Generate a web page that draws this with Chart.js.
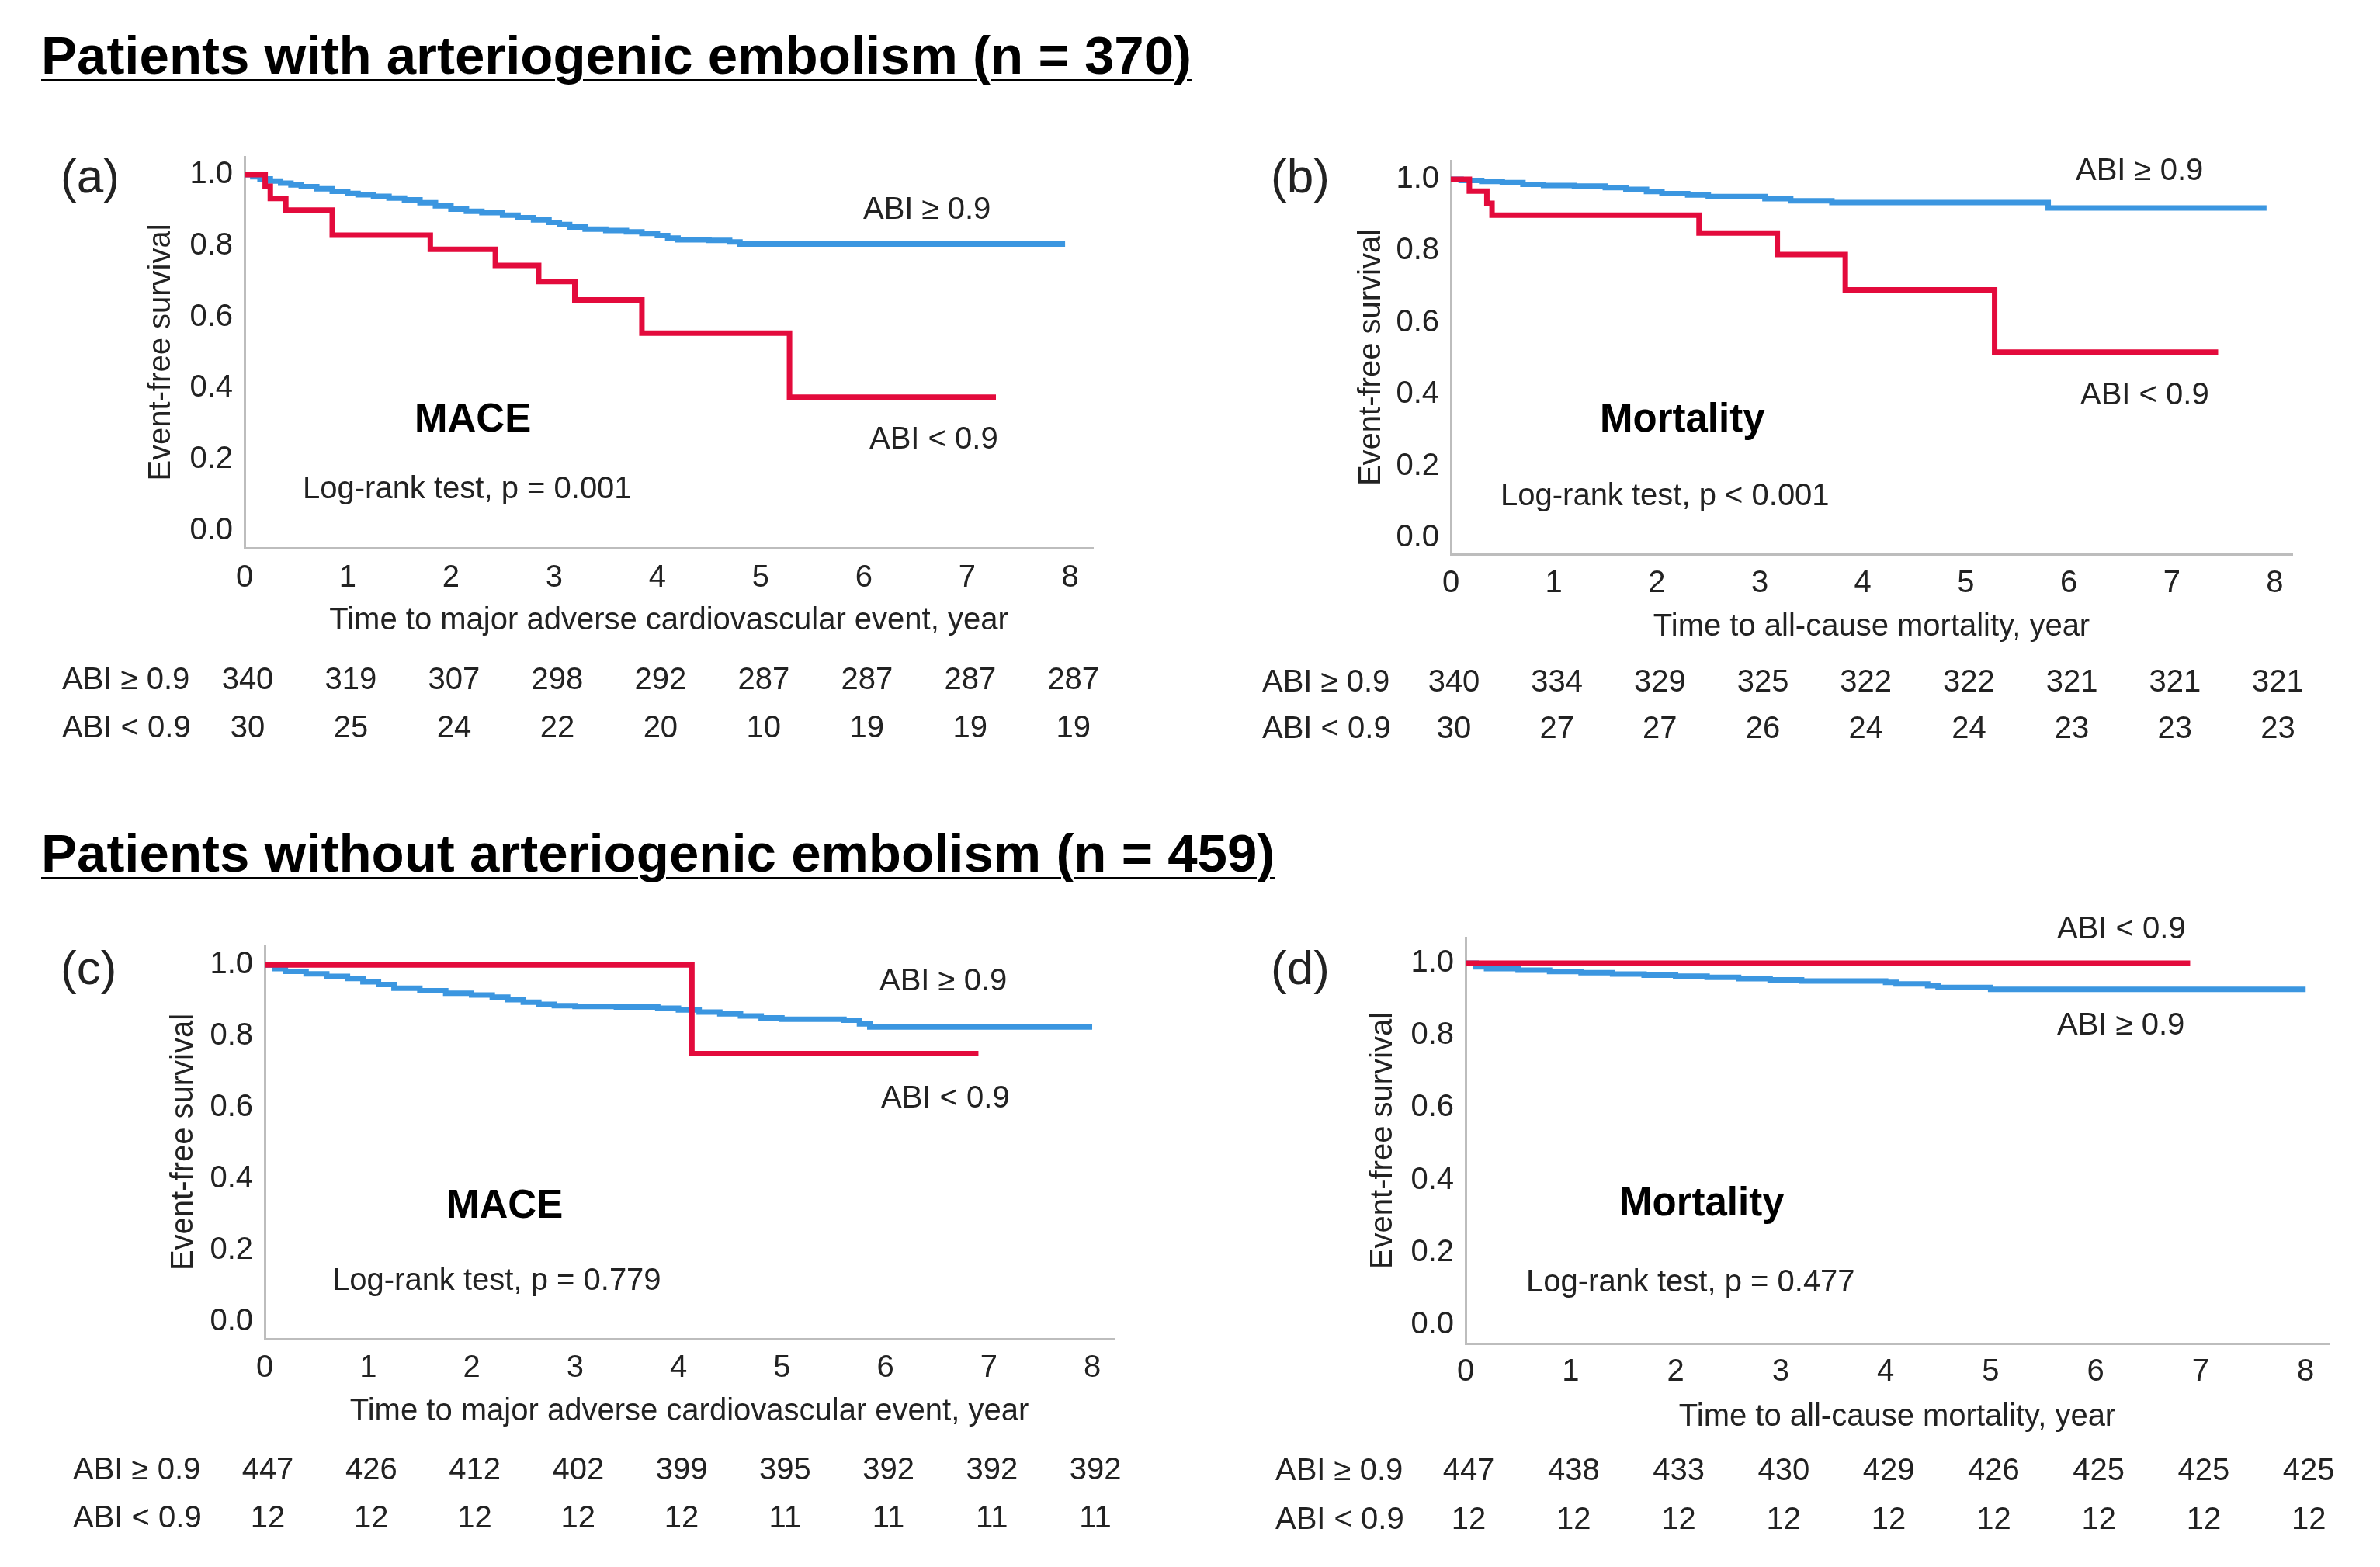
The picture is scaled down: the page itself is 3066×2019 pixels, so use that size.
<!DOCTYPE html>
<html>
<head>
<meta charset="utf-8">
<script src="https://cdn.jsdelivr.net/npm/chart.js"></script>
<style>
html,body{margin:0;padding:0;background:#fff;}
#page{position:relative;width:3066px;height:2019px;overflow:hidden;background:#fff;}
.sec{position:absolute;font-family:"Liberation Sans",Arial,sans-serif;font-weight:bold;font-size:69px;line-height:69px;color:#000;text-decoration:underline;text-decoration-thickness:3px;text-underline-offset:7px;white-space:nowrap;}
canvas{position:absolute;}
</style>
</head>
<body>
<div id="page">
  <div class="sec" style="left:53px;top:37px">Patients with arteriogenic embolism (n = 370)</div>
  <div class="sec" style="left:53px;top:1065px">Patients without arteriogenic embolism (n = 459)</div>
  <canvas id="cA"></canvas>
  <canvas id="cB"></canvas>
  <canvas id="cC"></canvas>
  <canvas id="cD"></canvas>
</div>
<script>
// ---------- data ----------
const TIME_TICKS = [0, 1, 2, 3, 4, 5, 6, 7, 8];
const SURV_TICKS = [0, 0.2, 0.4, 0.6, 0.8, 1.0];
const ROW_LABELS = ['ABI \u2265 0.9', 'ABI < 0.9'];

// (a) arteriogenic embolism, MACE
const A_LOW_T  = [0, 0.2, 0.25, 0.4, 0.85, 1.8, 2.43, 2.85, 3.2, 3.85, 5.28, 7.28];
const A_LOW_S  = [1, 0.967, 0.933, 0.9, 0.83, 0.79, 0.745, 0.70, 0.648, 0.555, 0.375, 0.375];
const A_HIGH_T = [0, 0.08, 0.15, 0.25, 0.35, 0.45, 0.55, 0.7, 0.85, 1.0, 1.1, 1.25, 1.4, 1.55, 1.7, 1.85, 2.0, 2.15, 2.3, 2.5, 2.65, 2.8, 2.95, 3.05, 3.15, 3.3, 3.5, 3.7, 3.85, 4.0, 4.1, 4.2, 4.5, 4.7, 4.8, 7.95];
const A_HIGH_S = [1, 0.994, 0.988, 0.982, 0.976, 0.971, 0.966, 0.96, 0.953, 0.947, 0.943, 0.939, 0.934, 0.929, 0.921, 0.912, 0.903, 0.897, 0.893, 0.886, 0.879, 0.873, 0.866, 0.86, 0.853, 0.847, 0.843, 0.839, 0.835, 0.829, 0.822, 0.817, 0.815, 0.811, 0.805, 0.805];
const A_RISK_HIGH = [340, 319, 307, 298, 292, 287, 287, 287, 287];
const A_RISK_LOW  = [30, 25, 24, 22, 20, 10, 19, 19, 19];

// (b) arteriogenic embolism, mortality
const B_LOW_T  = [0, 0.18, 0.35, 0.40, 2.41, 3.17, 3.83, 5.28, 7.45];
const B_LOW_S  = [1, 0.967, 0.933, 0.9, 0.85, 0.79, 0.692, 0.518, 0.518];
const B_HIGH_T = [0, 0.1, 0.3, 0.5, 0.7, 0.9, 1.2, 1.5, 1.7, 1.9, 2.05, 2.3, 2.5, 3.05, 3.3, 3.7, 5.8, 7.92];
const B_HIGH_S = [1, 0.997, 0.994, 0.991, 0.986, 0.983, 0.981, 0.977, 0.972, 0.966, 0.96, 0.956, 0.952, 0.946, 0.94, 0.935, 0.92, 0.92];
const B_RISK_HIGH = [340, 334, 329, 325, 322, 322, 321, 321, 321];
const B_RISK_LOW  = [30, 27, 27, 26, 24, 24, 23, 23, 23];

// (c) no arteriogenic embolism, MACE
const C_LOW_T  = [0, 4.13, 6.9];
const C_LOW_S  = [1, 0.752, 0.752];
const C_HIGH_T = [0, 0.1, 0.2, 0.4, 0.6, 0.8, 0.95, 1.1, 1.25, 1.5, 1.75, 2.0, 2.2, 2.35, 2.5, 2.65, 2.8, 3.0, 3.4, 3.8, 4.0, 4.2, 4.4, 4.6, 4.8, 5.0, 5.6, 5.75, 5.85, 8.0];
const C_HIGH_S = [1, 0.99, 0.982, 0.975, 0.968, 0.962, 0.953, 0.945, 0.935, 0.928, 0.921, 0.916, 0.91, 0.903, 0.896, 0.89, 0.886, 0.884, 0.882, 0.879, 0.874, 0.868, 0.863, 0.857, 0.852, 0.848, 0.845, 0.835, 0.826, 0.826];
const C_RISK_HIGH = [447, 426, 412, 402, 399, 395, 392, 392, 392];
const C_RISK_LOW  = [12, 12, 12, 12, 12, 11, 11, 11, 11];

// (d) no arteriogenic embolism, mortality
const D_LOW_T  = [0, 6.9];
const D_LOW_S  = [1, 1];
const D_HIGH_T = [0, 0.1, 0.2, 0.5, 0.8, 1.1, 1.4, 1.7, 2.0, 2.3, 2.6, 2.9, 3.2, 4.0, 4.1, 4.4, 4.5, 5.0, 8.0];
const D_HIGH_S = [1, 0.99, 0.985, 0.981, 0.977, 0.974, 0.97, 0.967, 0.964, 0.961, 0.957, 0.954, 0.951, 0.947, 0.943, 0.938, 0.933, 0.928, 0.928];
const D_RISK_HIGH = [447, 438, 433, 430, 429, 426, 425, 425, 425];
const D_RISK_LOW  = [12, 12, 12, 12, 12, 12, 12, 12, 12];

// ---------- style ----------
const FONT = '"Liberation Sans", Arial, sans-serif';
const INK = '#222222';
const RED = '#E30B3C';
const BLUE = '#3B96E0';
const AXIS = '#BDBDBD';
Chart.defaults.font.family = FONT;

const kmPlugin = {
  id: 'kmExtras',
  afterDraw(chart, args, o) {
    const ctx = chart.ctx;
    ctx.save();
    ctx.fillStyle = INK;
    ctx.textBaseline = 'alphabetic';
    ctx.textAlign = 'left';
    ctx.font = '62px ' + FONT;
    ctx.fillText(o.letter, o.letterX - o.ox, o.letterY - o.oy);
    o.notes.forEach(n => {
      ctx.font = (n.bold ? 'bold 51px ' : '40px ') + FONT;
      ctx.textAlign = 'left';
      ctx.fillStyle = n.bold ? '#000' : INK;
      ctx.fillText(n.text, n.x - o.ox, n.y - o.oy);
    });
    ctx.fillStyle = INK;
    ctx.font = '40px ' + FONT;
    const xs = chart.scales.x;
    [o.riskHigh, o.riskLow].forEach((row, r) => {
      const y = o.riskY[r] - o.oy;
      ctx.textAlign = 'left';
      ctx.fillText(ROW_LABELS[r], o.riskX - o.ox, y);
      ctx.textAlign = 'center';
      row.forEach((v, i) => {
        ctx.fillText(String(v), xs.getPixelForValue(TIME_TICKS[i]) + 4, y);
      });
    });
    ctx.restore();
  }
};

function pts(ts, ss) { return ts.map((t, i) => ({x: t, y: ss[i]})); }

function makePanel(c) {
  const cv = document.getElementById(c.id);
  cv.width = c.cw; cv.height = c.ch;
  cv.style.left = c.ox + 'px'; cv.style.top = c.oy + 'px';
  cv.style.width = c.cw + 'px'; cv.style.height = c.ch + 'px';
  const H = c.xTitleY - c.B + 24;
  const padLeft = c.yTitleX - 24 - c.ox;
  const W = c.L - c.yTitleX + 24;
  new Chart(cv, {
    type: 'line',
    data: {
      datasets: [
        {label: 'ABI < 0.9', data: pts(c.lowT, c.lowS), borderColor: RED, backgroundColor: RED},
        {label: 'ABI \u2265 0.9', data: pts(c.highT, c.highS), borderColor: BLUE, backgroundColor: BLUE}
      ]
    },
    options: {
      responsive: false,
      animation: false,
      devicePixelRatio: 1,
      layout: {padding: {left: padLeft, top: c.T - c.oy, right: c.ox + c.cw - c.R, bottom: c.oy + c.ch - c.B - H}},
      elements: {
        point: {radius: 0, hoverRadius: 0},
        line: {borderWidth: 7, stepped: 'before', tension: 0, borderCapStyle: 'butt', fill: false}
      },
      plugins: {
        legend: {display: false},
        tooltip: {enabled: false},
        kmExtras: {
          ox: c.ox, oy: c.oy, letter: c.letter, letterX: c.letterX, letterY: c.letterY,
          notes: c.notes, riskHigh: c.riskHigh, riskLow: c.riskLow, riskX: c.riskX, riskY: c.riskY
        }
      },
      scales: {
        x: {
          type: 'linear', position: 'bottom', min: 0, max: c.xMax,
          afterBuildTicks: s => { s.ticks = TIME_TICKS.map(v => ({value: v})); },
          afterFit: s => { s.height = H; },
          grid: {display: false},
          border: {display: true, color: AXIS, width: 3},
          ticks: {font: {size: 40, family: FONT}, color: INK, padding: c.xPad, autoSkip: false, maxRotation: 0, callback: v => String(v)},
          title: {display: true, text: c.xTitle, font: {size: 40, family: FONT}, color: INK, padding: 0}
        },
        y: {
          type: 'linear', position: 'left', min: c.yMin, max: c.yMax,
          afterBuildTicks: s => { s.ticks = SURV_TICKS.map(v => ({value: v})); },
          afterFit: s => { s.width = W; },
          grid: {display: false},
          border: {display: true, color: AXIS, width: 3},
          ticks: {font: {size: 40, family: FONT}, color: INK, padding: 7, callback: v => Number(v).toFixed(1)},
          title: {display: true, text: 'Event-free survival', font: {size: 40, family: FONT}, color: INK, padding: 0}
        }
      }
    },
    plugins: [kmPlugin]
  });
}

const XT_MACE = 'Time to major adverse cardiovascular event, year';
const XT_MORT = 'Time to all-cause mortality, year';

makePanel({
  id: 'cA', ox: 0, oy: 140, cw: 1533, ch: 860,
  L: 315, T: 202, R: 1408, B: 706, yTitleX: 208, xTitleY: 800, xPad: 7,
  xMax: 8.22, yMin: -0.048, yMax: 1.05, xTitle: XT_MACE,
  lowT: A_LOW_T, lowS: A_LOW_S, highT: A_HIGH_T, highS: A_HIGH_S,
  riskHigh: A_RISK_HIGH, riskLow: A_RISK_LOW, riskX: 80, riskY: [888, 950],
  letter: '(a)', letterX: 78, letterY: 248,
  notes: [
    {text: 'ABI \u2265 0.9', x: 1112, y: 282},
    {text: 'ABI < 0.9', x: 1120, y: 578},
    {text: 'MACE', x: 534, y: 556, bold: true},
    {text: 'Log-rank test, p = 0.001', x: 390, y: 642}
  ]
});

makePanel({
  id: 'cB', ox: 1533, oy: 140, cw: 1533, ch: 860,
  L: 1869, T: 207, R: 2953, B: 714, yTitleX: 1767, xTitleY: 808, xPad: 6,
  xMax: 8.17, yMin: -0.045, yMax: 1.052, xTitle: XT_MORT,
  lowT: B_LOW_T, lowS: B_LOW_S, highT: B_HIGH_T, highS: B_HIGH_S,
  riskHigh: B_RISK_HIGH, riskLow: B_RISK_LOW, riskX: 1626, riskY: [891, 951],
  letter: '(b)', letterX: 1637, letterY: 248,
  notes: [
    {text: 'ABI \u2265 0.9', x: 2674, y: 232},
    {text: 'ABI < 0.9', x: 2680, y: 521},
    {text: 'Mortality', x: 2061, y: 556, bold: true},
    {text: 'Log-rank test, p < 0.001', x: 1933, y: 651}
  ]
});

makePanel({
  id: 'cC', ox: 0, oy: 1150, cw: 1533, ch: 869,
  L: 341, T: 1218, R: 1435, B: 1725, yTitleX: 237, xTitleY: 1819, xPad: 6,
  xMax: 8.21, yMin: -0.047, yMax: 1.055, xTitle: XT_MACE,
  lowT: C_LOW_T, lowS: C_LOW_S, highT: C_HIGH_T, highS: C_HIGH_S,
  riskHigh: C_RISK_HIGH, riskLow: C_RISK_LOW, riskX: 94, riskY: [1906, 1968],
  letter: '(c)', letterX: 78, letterY: 1268,
  notes: [
    {text: 'ABI \u2265 0.9', x: 1133, y: 1276},
    {text: 'ABI < 0.9', x: 1135, y: 1427},
    {text: 'MACE', x: 575, y: 1569, bold: true},
    {text: 'Log-rank test, p = 0.779', x: 428, y: 1662}
  ]
});

makePanel({
  id: 'cD', ox: 1533, oy: 1150, cw: 1533, ch: 869,
  L: 1888, T: 1208, R: 3000, B: 1731, yTitleX: 1782, xTitleY: 1826, xPad: 5,
  xMax: 8.22, yMin: -0.0515, yMax: 1.071, xTitle: XT_MORT,
  lowT: D_LOW_T, lowS: D_LOW_S, highT: D_HIGH_T, highS: D_HIGH_S,
  riskHigh: D_RISK_HIGH, riskLow: D_RISK_LOW, riskX: 1643, riskY: [1907, 1970],
  letter: '(d)', letterX: 1637, letterY: 1268,
  notes: [
    {text: 'ABI < 0.9', x: 2650, y: 1209},
    {text: 'ABI \u2265 0.9', x: 2650, y: 1333},
    {text: 'Mortality', x: 2086, y: 1566, bold: true},
    {text: 'Log-rank test, p = 0.477', x: 1966, y: 1664}
  ]
});
</script>
</body>
</html>
